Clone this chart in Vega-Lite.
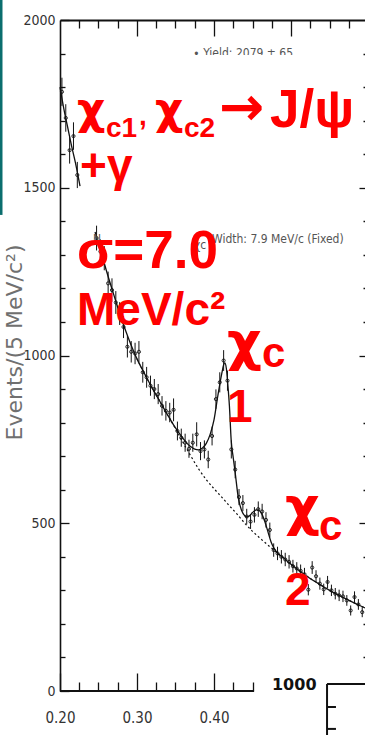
{
  "$schema": "https://vega.github.io/schema/vega-lite/v6.json",
  "width": 308,
  "height": 671,
  "autosize": {"type": "none"},
  "padding": {"left": 60, "top": 20, "right": 0, "bottom": 44},
  "background": "white",
  "config": {
    "view": {"stroke": null},
    "axis": {
      "grid": false,
      "tickColor": "#111",
      "tickWidth": 1.3,
      "domainColor": "#111",
      "domainWidth": 1.6,
      "labelFont": "DejaVu Sans Condensed, Liberation Sans",
      "labelFontSize": 14,
      "labelColor": "#333",
      "labelFlush": false,
      "labelOverlap": false
    }
  },
  "datasets": {
    "pts": [
      {"m": 0.2025, "v": 1786, "e": 42}, {"m": 0.2075, "v": 1708, "e": 41},
      {"m": 0.2125, "v": 1612, "e": 40}, {"m": 0.2175, "v": 1654, "e": 41},
      {"m": 0.2225, "v": 1538, "e": 39},
      {"m": 0.2475, "v": 1350, "e": 37}, {"m": 0.2525, "v": 1310, "e": 36},
      {"m": 0.2575, "v": 1290, "e": 36}, {"m": 0.2625, "v": 1215, "e": 35},
      {"m": 0.2675, "v": 1195, "e": 35}, {"m": 0.2725, "v": 1158, "e": 34},
      {"m": 0.2775, "v": 1125, "e": 34}, {"m": 0.2825, "v": 1085, "e": 33},
      {"m": 0.2875, "v": 1026, "e": 32}, {"m": 0.2925, "v": 1011, "e": 32},
      {"m": 0.2975, "v": 1006, "e": 32}, {"m": 0.3025, "v": 1011, "e": 32},
      {"m": 0.3075, "v": 950, "e": 31}, {"m": 0.3125, "v": 935, "e": 31},
      {"m": 0.3175, "v": 910, "e": 30}, {"m": 0.3225, "v": 900, "e": 30},
      {"m": 0.3275, "v": 885, "e": 30}, {"m": 0.3325, "v": 850, "e": 29},
      {"m": 0.3375, "v": 835, "e": 29}, {"m": 0.3425, "v": 830, "e": 29},
      {"m": 0.3475, "v": 838, "e": 34}, {"m": 0.3525, "v": 775, "e": 28},
      {"m": 0.3575, "v": 755, "e": 27}, {"m": 0.3625, "v": 740, "e": 27},
      {"m": 0.3675, "v": 722, "e": 27}, {"m": 0.3725, "v": 740, "e": 27},
      {"m": 0.3775, "v": 765, "e": 36}, {"m": 0.3825, "v": 715, "e": 27},
      {"m": 0.3875, "v": 720, "e": 27}, {"m": 0.3925, "v": 690, "e": 26},
      {"m": 0.3975, "v": 760, "e": 28}, {"m": 0.4025, "v": 870, "e": 29},
      {"m": 0.4075, "v": 920, "e": 30}, {"m": 0.4125, "v": 985, "e": 31},
      {"m": 0.4175, "v": 925, "e": 30}, {"m": 0.4225, "v": 720, "e": 27},
      {"m": 0.4275, "v": 660, "e": 26}, {"m": 0.4325, "v": 578, "e": 24},
      {"m": 0.4375, "v": 560, "e": 24}, {"m": 0.4425, "v": 520, "e": 23},
      {"m": 0.4475, "v": 505, "e": 22}, {"m": 0.4525, "v": 525, "e": 23},
      {"m": 0.4575, "v": 542, "e": 23}, {"m": 0.4625, "v": 535, "e": 23},
      {"m": 0.4675, "v": 510, "e": 23}, {"m": 0.4725, "v": 480, "e": 22},
      {"m": 0.4775, "v": 420, "e": 20}, {"m": 0.4825, "v": 410, "e": 20},
      {"m": 0.4875, "v": 400, "e": 20}, {"m": 0.4925, "v": 392, "e": 20},
      {"m": 0.4975, "v": 385, "e": 20}, {"m": 0.5025, "v": 372, "e": 19},
      {"m": 0.5075, "v": 365, "e": 19}, {"m": 0.5125, "v": 358, "e": 19},
      {"m": 0.5175, "v": 348, "e": 19}, {"m": 0.5225, "v": 302, "e": 17},
      {"m": 0.5275, "v": 368, "e": 19}, {"m": 0.5325, "v": 342, "e": 18},
      {"m": 0.5375, "v": 320, "e": 18}, {"m": 0.5425, "v": 303, "e": 17},
      {"m": 0.5475, "v": 325, "e": 18}, {"m": 0.5525, "v": 300, "e": 17},
      {"m": 0.5575, "v": 290, "e": 17}, {"m": 0.5625, "v": 285, "e": 17},
      {"m": 0.5675, "v": 282, "e": 17}, {"m": 0.5725, "v": 270, "e": 16},
      {"m": 0.5775, "v": 240, "e": 15}, {"m": 0.5825, "v": 280, "e": 17},
      {"m": 0.5875, "v": 258, "e": 16}, {"m": 0.5925, "v": 235, "e": 15}
    ],
    "fit": [
      {"m": 0.200, "v": 1800, "s": "a"}, {"m": 0.205, "v": 1735, "s": "a"},
      {"m": 0.210, "v": 1680, "s": "a"}, {"m": 0.215, "v": 1625, "s": "a"},
      {"m": 0.220, "v": 1575, "s": "a"}, {"m": 0.226, "v": 1505, "s": "a"},
      {"m": 0.2455, "v": 1368, "s": "b"}, {"m": 0.25, "v": 1335, "s": "b"},
      {"m": 0.26, "v": 1255, "s": "b"}, {"m": 0.27, "v": 1180, "s": "b"},
      {"m": 0.28, "v": 1108, "s": "b"}, {"m": 0.29, "v": 1045, "s": "b"},
      {"m": 0.30, "v": 990, "s": "b"}, {"m": 0.31, "v": 945, "s": "b"},
      {"m": 0.32, "v": 902, "s": "b"}, {"m": 0.33, "v": 862, "s": "b"},
      {"m": 0.34, "v": 822, "s": "b"}, {"m": 0.35, "v": 784, "s": "b"},
      {"m": 0.355, "v": 768, "s": "b"}, {"m": 0.36, "v": 752, "s": "b"},
      {"m": 0.365, "v": 738, "s": "b"}, {"m": 0.37, "v": 728, "s": "b"},
      {"m": 0.375, "v": 721, "s": "b"}, {"m": 0.38, "v": 719, "s": "b"},
      {"m": 0.385, "v": 724, "s": "b"}, {"m": 0.39, "v": 738, "s": "b"},
      {"m": 0.395, "v": 765, "s": "b"}, {"m": 0.40, "v": 808, "s": "b"},
      {"m": 0.405, "v": 880, "s": "b"}, {"m": 0.41, "v": 945, "s": "b"},
      {"m": 0.4125, "v": 972, "s": "b"}, {"m": 0.414, "v": 978, "s": "b"},
      {"m": 0.416, "v": 962, "s": "b"}, {"m": 0.418, "v": 912, "s": "b"},
      {"m": 0.420, "v": 850, "s": "b"}, {"m": 0.4223, "v": 748, "s": "b"},
      {"m": 0.425, "v": 695, "s": "b"}, {"m": 0.4273, "v": 655, "s": "b"},
      {"m": 0.4316, "v": 575, "s": "b"}, {"m": 0.436, "v": 537, "s": "b"},
      {"m": 0.44, "v": 522, "s": "b"}, {"m": 0.4425, "v": 519, "s": "b"},
      {"m": 0.446, "v": 522, "s": "b"}, {"m": 0.45, "v": 532, "s": "b"},
      {"m": 0.455, "v": 540, "s": "b"}, {"m": 0.458, "v": 539, "s": "b"},
      {"m": 0.462, "v": 528, "s": "b"}, {"m": 0.466, "v": 505, "s": "b"},
      {"m": 0.47, "v": 475, "s": "b"}, {"m": 0.474, "v": 445, "s": "b"},
      {"m": 0.478, "v": 425, "s": "b"}, {"m": 0.482, "v": 412, "s": "b"},
      {"m": 0.49, "v": 397, "s": "b"}, {"m": 0.50, "v": 378, "s": "b"},
      {"m": 0.51, "v": 360, "s": "b"}, {"m": 0.52, "v": 343, "s": "b"},
      {"m": 0.53, "v": 328, "s": "b"}, {"m": 0.54, "v": 314, "s": "b"},
      {"m": 0.55, "v": 300, "s": "b"}, {"m": 0.56, "v": 288, "s": "b"},
      {"m": 0.57, "v": 276, "s": "b"}, {"m": 0.58, "v": 265, "s": "b"},
      {"m": 0.59, "v": 254, "s": "b"}, {"m": 0.60, "v": 244, "s": "b"}
    ],
    "bg": [
      {"m": 0.30, "v": 990}, {"m": 0.31, "v": 945}, {"m": 0.32, "v": 902},
      {"m": 0.33, "v": 862}, {"m": 0.34, "v": 822}, {"m": 0.35, "v": 782},
      {"m": 0.36, "v": 740}, {"m": 0.37, "v": 700}, {"m": 0.38, "v": 662},
      {"m": 0.39, "v": 630}, {"m": 0.40, "v": 603}, {"m": 0.41, "v": 578},
      {"m": 0.42, "v": 552}, {"m": 0.43, "v": 527}, {"m": 0.44, "v": 500},
      {"m": 0.45, "v": 476}, {"m": 0.46, "v": 455}, {"m": 0.47, "v": 435},
      {"m": 0.48, "v": 416}, {"m": 0.49, "v": 397}, {"m": 0.50, "v": 378},
      {"m": 0.51, "v": 360}, {"m": 0.52, "v": 343}, {"m": 0.53, "v": 328},
      {"m": 0.54, "v": 314}, {"m": 0.55, "v": 300}, {"m": 0.56, "v": 288},
      {"m": 0.57, "v": 276}, {"m": 0.58, "v": 265}, {"m": 0.59, "v": 254},
      {"m": 0.60, "v": 244}
    ],
    "frame": [
      {"m": 0.2, "m2": 0.452, "v": 0, "v2": 0},
      {"m": 0.5468, "m2": 0.5468, "v": 21, "v2": -140},
      {"m": 0.5468, "m2": 0.62, "v": 21, "v2": 21},
      {"m": 0.5468, "m2": 0.5584, "v": -47.7, "v2": -47.7},
      {"m": 0.5468, "m2": 0.5584, "v": -113, "v2": -113}
    ],
    "band": [
      {"m": 0.12208, "m2": 0.12532, "v": 2060, "v2": 1419}
    ],
    "cover": [
      {"m": 0.3623, "m2": 0.53, "v": 1896, "v2": 1815}
    ],
    "notes": [
      {"t": "∙ Yield: 2079 ± 65", "m": 0.3727, "v": 1890},
      {"t": "N", "m": 0.2429, "v": 1335},
      {"t": "χc", "m": 0.374, "v": 1317},
      {"t": "Width:  7.9 MeV/c (Fixed)", "m": 0.3974, "v": 1335}
    ],
    "inset": [
      {"t": "1000", "m": 0.4753, "v": 3}
    ],
    "sub": [
      {"t": "c1", "m": 0.2597, "v": 1651},
      {"t": ",", "m": 0.3026, "v": 1687},
      {"t": "c2", "m": 0.3610, "v": 1651}
    ],
    "cLetters": [
      {"t": "c", "m": 0.4623, "v": 966},
      {"t": "c", "m": 0.5363, "v": 450}
    ],
    "midText": [
      {"t": "+γ", "m": 0.226, "v": 1520},
      {"t": "MeV/c²", "m": 0.2221, "v": 1091},
      {"t": "1", "m": 0.4169, "v": 802},
      {"t": "2", "m": 0.4922, "v": 256}
    ],
    "bigText": [
      {"t": "J/ψ", "m": 0.4727, "v": 1681},
      {"t": "σ=7.0", "m": 0.2221, "v": 1261}
    ],
    "chiTitle": [
      {"t": "χ", "m": 0.2221, "v": 1690},
      {"t": "χ", "m": 0.3234, "v": 1690}
    ],
    "chiLabel": [
      {"t": "χ", "m": 0.4169, "v": 988},
      {"t": "χ", "m": 0.4922, "v": 496},
      {"t": "→", "m": 0.4065, "v": 1687}
    ]
  },
  "layer": [
    {
      "data": {"name": "band"},
      "mark": {"type": "rect", "color": "#0b6e6e"},
      "encoding": {
        "x": {"field": "m", "type": "quantitative", "scale": {"domain": [0.2, 0.6], "nice": false, "zero": false}, "axis": null},
        "x2": {"field": "m2"},
        "y": {"field": "v", "type": "quantitative", "scale": {"domain": [0, 2000], "nice": false, "zero": false}, "axis": null},
        "y2": {"field": "v2"}
      }
    },
    {
      "data": {"name": "bg"},
      "mark": {"type": "line", "color": "#111", "strokeWidth": 1.2, "strokeDash": [2, 2.5], "interpolate": "monotone"},
      "encoding": {
        "x": {"field": "m", "type": "quantitative", "scale": {"domain": [0.2, 0.6], "nice": false, "zero": false},
              "axis": {"orient": "bottom", "values": [0.2, 0.3, 0.4], "format": ".2f", "domain": false, "tickSize": -18, "labelPadding": 37, "labelFontSize": 15, "title": null}},
        "y": {"field": "v", "type": "quantitative", "scale": {"domain": [0, 2000], "nice": false, "zero": false},
              "axis": {"orient": "left", "values": [0, 500, 1000, 1500, 2000], "format": "d", "domain": true, "tickSize": -9, "labelPadding": 14,
                       "title": "Events/(5 MeV/c²)", "titleX": -39, "titleY": 322, "titleFont": "DejaVu Sans", "titleFontSize": 22,
                       "titleFontWeight": "normal", "titleColor": "#707070", "titleBaseline": "alphabetic"}}
      }
    },
    {
      "data": {"name": "fit"},
      "mark": {"type": "line", "color": "#111", "strokeWidth": 1.3, "interpolate": "monotone"},
      "encoding": {
        "x": {"field": "m", "type": "quantitative", "scale": {"domain": [0.2, 0.6], "nice": false, "zero": false},
              "axis": {"orient": "bottom", "values": [0.225, 0.25, 0.275, 0.325, 0.35, 0.375, 0.425, 0.45], "labels": false, "domain": false, "tickSize": -9, "title": null}},
        "y": {"field": "v", "type": "quantitative", "scale": {"domain": [0, 2000], "nice": false, "zero": false},
              "axis": {"orient": "left", "values": [100, 200, 300, 400, 600, 700, 800, 900, 1100, 1200, 1300, 1400, 1600, 1700, 1800, 1900], "labels": false, "domain": false, "tickSize": -5, "title": null}},
        "detail": {"field": "s"}
      }
    },
    {
      "data": {"name": "pts"},
      "mark": {"type": "errorbar", "ticks": false, "color": "#111", "rule": {"strokeWidth": 1}},
      "encoding": {
        "x": {"field": "m", "type": "quantitative", "scale": {"domain": [0.2, 0.6], "nice": false, "zero": false}, "axis": null},
        "y": {"field": "v", "type": "quantitative", "scale": {"domain": [0, 2000], "nice": false, "zero": false}, "axis": null},
        "yError": {"field": "e"}
      }
    },
    {
      "data": {"name": "pts"},
      "mark": {"type": "point", "shape": "circle", "size": 10, "filled": false, "color": "#111", "strokeWidth": 0.9, "opacity": 1},
      "encoding": {
        "x": {"field": "m", "type": "quantitative", "scale": {"domain": [0.2, 0.6], "nice": false, "zero": false},
              "axis": {"orient": "top", "values": [0.3, 0.4, 0.5], "labels": false, "domain": true, "domainWidth": 2, "tickSize": -16, "title": null}},
        "y": {"field": "v", "type": "quantitative", "scale": {"domain": [0, 2000], "nice": false, "zero": false},
              "axis": {"orient": "right", "values": [500, 1000, 1500], "labels": false, "domain": false, "tickSize": -9, "title": null}}
      }
    },
    {
      "data": {"name": "frame"},
      "mark": {"type": "rule", "color": "#111", "strokeWidth": 2},
      "encoding": {
        "x": {"field": "m", "type": "quantitative", "scale": {"domain": [0.2, 0.6], "nice": false, "zero": false},
              "axis": {"orient": "top", "values": [0.225, 0.25, 0.275, 0.325, 0.35, 0.375, 0.425, 0.45, 0.475, 0.525, 0.55, 0.575], "labels": false, "domain": false, "tickSize": -8, "title": null}},
        "x2": {"field": "m2"},
        "y": {"field": "v", "type": "quantitative", "scale": {"domain": [0, 2000], "nice": false, "zero": false},
              "axis": {"orient": "right", "values": [100, 200, 300, 400, 600, 700, 800, 900, 1100, 1200, 1300, 1400, 1600, 1700, 1800, 1900], "labels": false, "domain": false, "tickSize": -5, "title": null}},
        "y2": {"field": "v2"}
      }
    },
    {
      "data": {"name": "notes"},
      "mark": {"type": "text", "font": "DejaVu Sans Condensed, Liberation Sans", "fontSize": 12, "color": "#555", "align": "left", "baseline": "alphabetic"},
      "encoding": {
        "x": {"field": "m", "type": "quantitative", "scale": {"domain": [0.2, 0.6], "nice": false, "zero": false}, "axis": null},
        "y": {"field": "v", "type": "quantitative", "scale": {"domain": [0, 2000], "nice": false, "zero": false}, "axis": null},
        "text": {"field": "t"}
      }
    },
    {
      "data": {"name": "cover"},
      "mark": {"type": "rect", "color": "white"},
      "encoding": {
        "x": {"field": "m", "type": "quantitative", "scale": {"domain": [0.2, 0.6], "nice": false, "zero": false}, "axis": null},
        "x2": {"field": "m2"},
        "y": {"field": "v", "type": "quantitative", "scale": {"domain": [0, 2000], "nice": false, "zero": false}, "axis": null},
        "y2": {"field": "v2"}
      }
    },
    {
      "data": {"name": "inset"},
      "mark": {"type": "text", "font": "DejaVu Sans", "fontWeight": "bold", "fontSize": 16, "color": "#111", "align": "left", "baseline": "alphabetic"},
      "encoding": {
        "x": {"field": "m", "type": "quantitative", "scale": {"domain": [0.2, 0.6], "nice": false, "zero": false}, "axis": null},
        "y": {"field": "v", "type": "quantitative", "scale": {"domain": [0, 2000], "nice": false, "zero": false}, "axis": null},
        "text": {"field": "t"}
      }
    },
    {
      "data": {"name": "sub"},
      "mark": {"type": "text", "font": "Liberation Sans", "fontWeight": "bold", "fontSize": 28, "color": "#ff0000", "align": "left", "baseline": "alphabetic"},
      "encoding": {
        "x": {"field": "m", "type": "quantitative", "scale": {"domain": [0.2, 0.6], "nice": false, "zero": false}, "axis": null},
        "y": {"field": "v", "type": "quantitative", "scale": {"domain": [0, 2000], "nice": false, "zero": false}, "axis": null},
        "text": {"field": "t"}
      }
    },
    {
      "data": {"name": "cLetters"},
      "mark": {"type": "text", "font": "Liberation Sans", "fontWeight": "bold", "fontSize": 42, "color": "#ff0000", "align": "left", "baseline": "alphabetic"},
      "encoding": {
        "x": {"field": "m", "type": "quantitative", "scale": {"domain": [0.2, 0.6], "nice": false, "zero": false}, "axis": null},
        "y": {"field": "v", "type": "quantitative", "scale": {"domain": [0, 2000], "nice": false, "zero": false}, "axis": null},
        "text": {"field": "t"}
      }
    },
    {
      "data": {"name": "midText"},
      "mark": {"type": "text", "font": "Liberation Sans", "fontWeight": "bold", "fontSize": 46, "color": "#ff0000", "align": "left", "baseline": "alphabetic"},
      "encoding": {
        "x": {"field": "m", "type": "quantitative", "scale": {"domain": [0.2, 0.6], "nice": false, "zero": false}, "axis": null},
        "y": {"field": "v", "type": "quantitative", "scale": {"domain": [0, 2000], "nice": false, "zero": false}, "axis": null},
        "text": {"field": "t"}
      }
    },
    {
      "data": {"name": "bigText"},
      "mark": {"type": "text", "font": "Liberation Sans", "fontWeight": "bold", "fontSize": 53, "color": "#ff0000", "align": "left", "baseline": "alphabetic"},
      "encoding": {
        "x": {"field": "m", "type": "quantitative", "scale": {"domain": [0.2, 0.6], "nice": false, "zero": false}, "axis": null},
        "y": {"field": "v", "type": "quantitative", "scale": {"domain": [0, 2000], "nice": false, "zero": false}, "axis": null},
        "text": {"field": "t"}
      }
    },
    {
      "data": {"name": "chiTitle"},
      "mark": {"type": "text", "font": "DejaVu Sans", "fontWeight": "bold", "fontSize": 44, "color": "#ff0000", "align": "left", "baseline": "alphabetic"},
      "encoding": {
        "x": {"field": "m", "type": "quantitative", "scale": {"domain": [0.2, 0.6], "nice": false, "zero": false}, "axis": null},
        "y": {"field": "v", "type": "quantitative", "scale": {"domain": [0, 2000], "nice": false, "zero": false}, "axis": null},
        "text": {"field": "t"}
      }
    },
    {
      "data": {"name": "chiLabel"},
      "mark": {"type": "text", "font": "DejaVu Sans", "fontWeight": "bold", "fontSize": 54, "color": "#ff0000", "align": "left", "baseline": "alphabetic"},
      "encoding": {
        "x": {"field": "m", "type": "quantitative", "scale": {"domain": [0.2, 0.6], "nice": false, "zero": false}, "axis": null},
        "y": {"field": "v", "type": "quantitative", "scale": {"domain": [0, 2000], "nice": false, "zero": false}, "axis": null},
        "text": {"field": "t"}
      }
    }
  ],
  "resolve": {"axis": {"x": "independent", "y": "independent"}}
}
